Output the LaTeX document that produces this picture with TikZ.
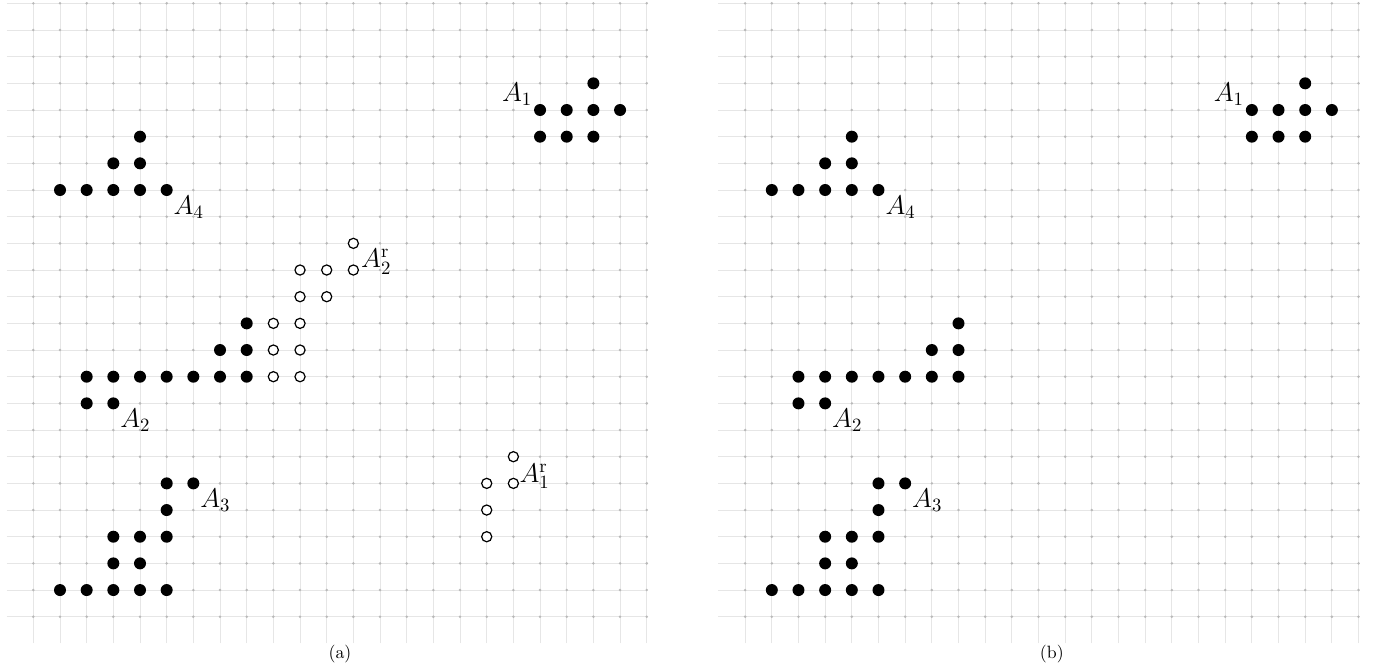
\documentclass[tikz,border=0pt]{standalone}
\usetikzlibrary{calc}
\definecolor{gridline}{RGB}{230,230,230}
\definecolor{griddot}{RGB}{185,185,185}
\tikzset{
  fdot/.style={circle,fill=black,inner sep=0pt,minimum size=0.225cm},
  odot/.style={circle,draw=black,line width=0.65pt,fill=white,inner sep=0pt,minimum size=0.19cm},
  lab/.style={inner sep=0pt,font=\fontsize{14.4}{17}\selectfont},
  captext/.style={inner sep=0pt,font=\fontsize{9.5}{11}\selectfont},
  gline/.style={draw=gridline,line width=0.5pt},
}
\newcommand{\panelgrid}{%
  \foreach \i in {0,...,23} {\draw[gline] (\i,-1) -- (\i,23);}
  \foreach \j in {0,...,23} {\draw[gline] (-1,\j) -- (23,\j);}
  \foreach \i in {0,...,23} {\foreach \j in {0,...,23} {\fill[griddot] (\i,\j) circle (0.75pt);}}
}
\newcommand{\filledsets}[1]{%
  % A1
  \foreach \p [count=\k] in {(21,20),(19,19),(20,19),(21,19),(22,19),(19,18),(20,18),(21,18)}
    {\node[fdot] (#1A1-\k) at \p {};}
  % A4
  \foreach \p [count=\k] in {(4,18),(3,17),(4,17),(1,16),(2,16),(3,16),(4,16),(5,16)}
    {\node[fdot] (#1A4-\k) at \p {};}
  % A2
  \foreach \p [count=\k] in {(8,11),(7,10),(8,10),(2,9),(3,9),(4,9),(5,9),(6,9),(7,9),(8,9),(2,8),(3,8)}
    {\node[fdot] (#1A2-\k) at \p {};}
  % A3
  \foreach \p [count=\k] in {(5,5),(6,5),(5,4),(3,3),(4,3),(5,3),(3,2),(4,2),(1,1),(2,1),(3,1),(4,1),(5,1)}
    {\node[fdot] (#1A3-\k) at \p {};}
  \node[lab,anchor=base east] (#1lA1) at ($(#1A1-2)+(-0.28,0.31)$) {$A_1$};
  \node[lab,anchor=base west] (#1lA4) at ($(#1A4-8)+(0.25,-0.9)$) {$A_4$};
  \node[lab,anchor=base west] (#1lA2) at ($(#1A2-12)+(0.25,-0.9)$) {$A_2$};
  \node[lab,anchor=base west] (#1lA3) at ($(#1A3-2)+(0.25,-0.9)$) {$A_3$};
}
\begin{document}
\begin{tikzpicture}[x=0.5cm,y=0.5cm]
\useasboundingbox (-1.25,-2.04) rectangle (50.42,23.125);
% panel (a)
\begin{scope}
  \panelgrid
  \filledsets{a}
  \foreach \p [count=\k] in {(12,14),(10,13),(11,13),(12,13),(10,12),(11,12),(9,11),(10,11),(9,10),(10,10),(9,9),(10,9)}
    {\node[odot] (aR2-\k) at \p {};}
  \foreach \p [count=\k] in {(18,6),(17,5),(18,5),(17,4),(17,3)}
    {\node[odot] (aR1-\k) at \p {};}
  \node[lab,anchor=base west] (alR2) at ($(aR2-4)+(0.28,0.1)$) {$A^{\mathrm{r}}_2$};
  \node[lab,anchor=base west] (alR1) at ($(aR1-3)+(0.22,0.05)$) {$A^{\mathrm{r}}_1$};
  \node[captext] (capa) at (11.5,-1.4) {(a)};
\end{scope}
% panel (b)
\begin{scope}[xshift=13.345cm]
  \panelgrid
  \filledsets{b}
  \node[captext] (capb) at (11.5,-1.4) {(b)};
\end{scope}
\end{tikzpicture}
\end{document}
